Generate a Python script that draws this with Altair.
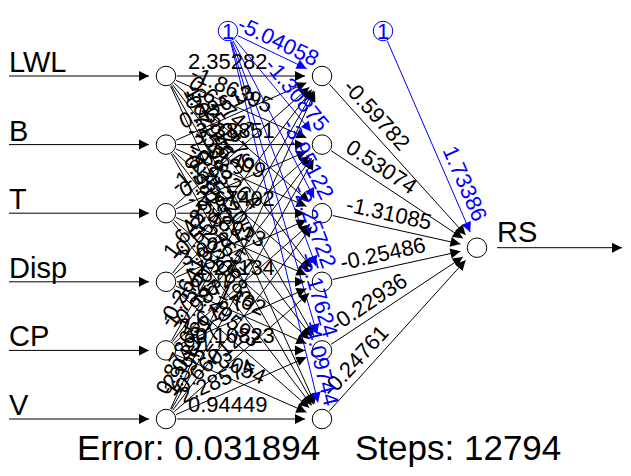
import math
import altair as alt
import pandas as pd

# ---------------- data ----------------
input_names = ["LWL", "B", "T", "Disp", "CP", "V"]
output_name = "RS"
layer_x = [166, 322, 477]                       # input, hidden, output column (page px)
node_y = [76, 144.6, 213.2, 281.8, 350.4, 419]  # rows of input and hidden nodes
output_y = 247.7
bias_x = [228, 383]
bias_y = 31

# weights input -> hidden (rows: inputs, columns: hidden nodes)
w_in = [
    ["2.35282", "-1.86395", "0.62741", "-3.15027", "1.02946", "-0.71538"],
    ["0.49613", "-3.38851", "2.17409", "-0.83264", "-1.45720", "0.38157"],
    ["-1.20574", "0.91836", "-2.67402", "1.48913", "0.27651", "-1.93068"],
    ["1.64290", "-0.55937", "3.02815", "-1.27134", "0.81462", "-2.40593"],
    ["-0.36418", "1.75209", "-0.98726", "2.61873", "-0.10823", "1.13054"],
    ["0.87365", "-2.04981", "1.39527", "-0.66012", "2.28574", "0.94449"],
]
w_bias1 = ["-5.04058", "-1.30875", "-3.95122", "-2.25722", "-5.17624", "-4.09744"]
w_out = ["-0.59782", "0.53074", "-1.31085", "-0.25486", "-0.22936", "-0.24761"]
w_bias2 = "1.73386"
error_text = "Error: 0.031894"
steps_text = "Steps: 12794"

BLUE = "#0000ff"
BLACK = "#000000"
R = 11          # node radius
TIP = 17        # arrow tip distance from target centre
D_LAB = 22      # label distance from source node centre (left-aligned labels)
H_LAB = 7       # label baseline offset above edge

edges, arrows, lab_left, lab_right = [], [], [], []


def add_edge(s, t, col, label, align, d_end=20, h=H_LAB):
    dx, dy = t[0] - s[0], t[1] - s[1]
    L = math.hypot(dx, dy)
    ux, uy = dx / L, dy / L
    nx, ny = uy, -ux
    start = (s[0] + R * ux, s[1] + R * uy)
    tip = (t[0] - TIP * ux, t[1] - TIP * uy)
    edges.append(dict(x=start[0], y=start[1], x2=tip[0], y2=tip[1], col=col))
    ang = math.degrees(math.atan2(uy, ux)) % 360
    arrows.append(dict(x=tip[0], y=tip[1], angle=ang, col=col))
    if align == "left":
        ax = s[0] + D_LAB * ux + h * nx
        ay = s[1] + D_LAB * uy + h * ny
        lab_left.append(dict(x=ax, y=ay, angle=ang, text=label, col=col))
    else:
        ax = t[0] - d_end * ux + h * nx
        ay = t[1] - d_end * uy + h * ny
        lab_right.append(dict(x=ax, y=ay, angle=ang, text=label, col=col))


for i in range(len(input_names)):
    for j in range(len(node_y)):
        add_edge((layer_x[0], node_y[i]), (layer_x[1], node_y[j]), BLACK, w_in[i][j], "left")
for j in range(len(node_y)):
    add_edge((bias_x[0], bias_y), (layer_x[1], node_y[j]), BLUE, w_bias1[j], "right",
             d_end=11, h=5)
for j in range(len(node_y)):
    add_edge((layer_x[1], node_y[j]), (layer_x[2], output_y), BLACK, w_out[j], "left")
add_edge((bias_x[1], bias_y), (layer_x[2], output_y), BLUE, w_bias2, "right", d_end=24)

# input / output arrows
for i, yv in enumerate(node_y):
    edges.append(dict(x=9, y=yv, x2=layer_x[0] - TIP, y2=yv, col=BLACK))
    arrows.append(dict(x=layer_x[0] - TIP, y=yv, angle=0, col=BLACK))
edges.append(dict(x=layer_x[2] + 20, y=output_y, x2=622, y2=output_y, col=BLACK))
arrows.append(dict(x=622, y=output_y, angle=0, col=BLACK))

nodes = pd.DataFrame(
    [dict(x=layer_x[0], y=v) for v in node_y]
    + [dict(x=layer_x[1], y=v) for v in node_y]
    + [dict(x=layer_x[2], y=output_y)]
)
bias_nodes = pd.DataFrame([dict(x=bx, y=bias_y, text="1") for bx in bias_x])
io_labels = pd.DataFrame(
    [dict(x=9, y=v - 4, text=n) for n, v in zip(input_names, node_y)]
    + [dict(x=497, y=output_y - 6, text=output_name)]
)
bottom = pd.DataFrame([dict(x=77, y=460, text=error_text), dict(x=355, y=460, text=steps_text)])

xs = alt.Scale(domain=[8, 623], range=[0, 615], nice=False, zero=False)
ys = alt.Scale(domain=[8, 468], range=[0, 460], nice=False, zero=False)
X = alt.X("x:Q", scale=xs, axis=None)
Y = alt.Y("y:Q", scale=ys, axis=None)
COL = alt.Color("col:N", scale=None)
FONT = "Liberation Sans"

edge_layer = alt.Chart(pd.DataFrame(edges)).mark_rule(strokeWidth=1).encode(
    x=X, y=Y, x2="x2:Q", y2="y2:Q", color=COL
)
arrow_layer = alt.Chart(pd.DataFrame(arrows)).mark_point(
    shape="M0,0L-2,-1L-2,1Z", filled=True, size=100, opacity=1
).encode(x=X, y=Y, angle=alt.Angle("angle:Q", scale=None), color=COL)

node_layer = alt.Chart(nodes).mark_point(
    shape="circle", filled=False, fill="white", fillOpacity=1, stroke=BLACK,
    strokeWidth=1, size=380, opacity=1
).encode(x=X, y=Y)
bias_layer = alt.Chart(bias_nodes).mark_point(
    shape="circle", filled=False, fill="white", fillOpacity=1, stroke=BLUE,
    strokeWidth=1, size=380, opacity=1
).encode(x=X, y=Y)
bias_text = alt.Chart(bias_nodes).mark_text(
    font=FONT, fontSize=22, color=BLUE, align="center", baseline="middle", dy=1
).encode(x=X, y=Y, text="text:N")

wl_left = alt.Chart(pd.DataFrame(lab_left)).mark_text(
    font=FONT, fontSize=22, align="left", baseline="alphabetic"
).encode(x=X, y=Y, text="text:N", angle=alt.Angle("angle:Q", scale=None), color=COL)
wl_right = alt.Chart(pd.DataFrame(lab_right)).mark_text(
    font=FONT, fontSize=22, align="right", baseline="alphabetic"
).encode(x=X, y=Y, text="text:N", angle=alt.Angle("angle:Q", scale=None), color=COL)

io_layer = alt.Chart(io_labels).mark_text(
    font=FONT, fontSize=29, align="left", baseline="alphabetic", color=BLACK
).encode(x=X, y=Y, text="text:N")
bottom_layer = alt.Chart(bottom).mark_text(
    font=FONT, fontSize=35, align="left", baseline="alphabetic", color=BLACK
).encode(x=X, y=Y, text="text:N")

chart = alt.layer(
    edge_layer, arrow_layer, node_layer, bias_layer, bias_text,
    wl_left, wl_right, io_layer, bottom_layer
).properties(
    width=615, height=460, padding=0, autosize="none", background="white"
).configure_view(strokeWidth=0)

chart.save("out.html", embed_options={"renderer": "svg", "actions": False})
